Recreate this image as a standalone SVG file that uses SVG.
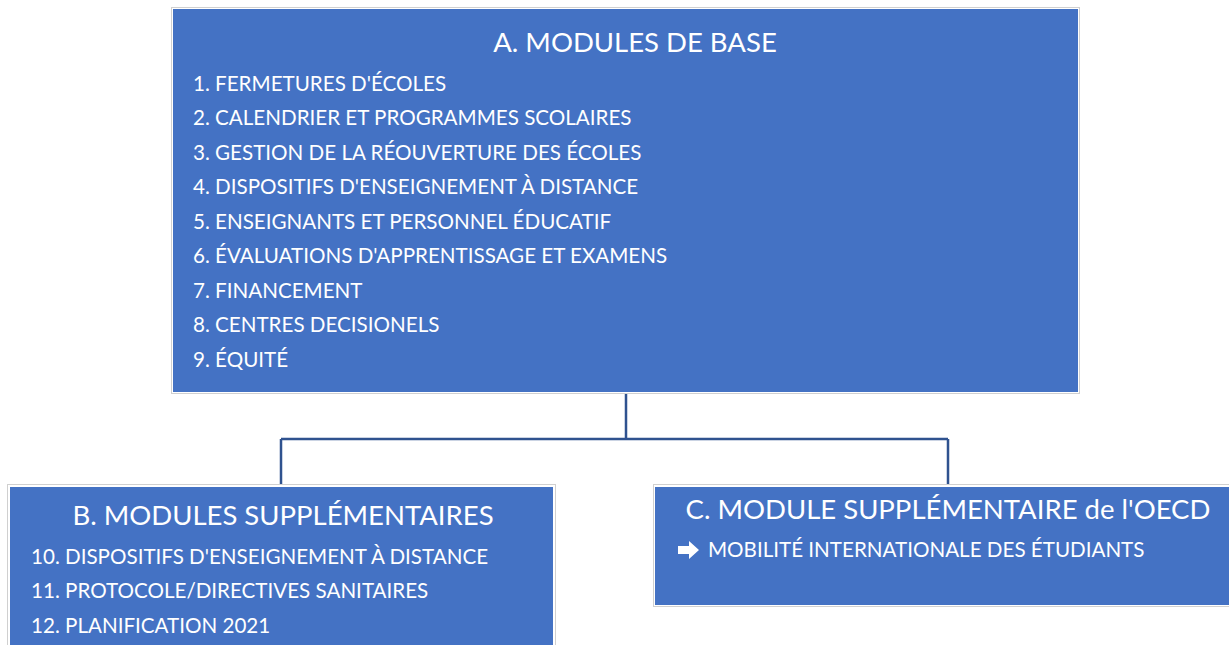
<svg xmlns="http://www.w3.org/2000/svg" width="1229" height="645" viewBox="0 0 1229 645">
<style>
.frame{fill:#ffffff;stroke:#d0d0d0;stroke-width:1}
.box{fill:#4472C4}
.t{font-family:Lato,"Liberation Sans",sans-serif;fill:#ffffff}
.title{font-size:27.5px;text-anchor:middle}
.item{font-size:20.6px}
.conn{fill:none;stroke:#2F528F;stroke-width:2.5}
</style>
<rect width="1229" height="645" fill="#ffffff"/>
<g id="connectors">
<path class="conn" d="M626,394 V439 M281,439 H948 M281,439 V486 M948,439 V486"/>
</g>
<g id="nodeA">
<rect class="frame" x="171.5" y="7.5" width="908" height="386"/>
<rect class="box" x="173" y="9" width="905" height="383"/>
<text class="t title" x="635" y="52">A. MODULES DE BASE</text>
<text class="t item" x="193" y="91">1. FERMETURES D'ÉCOLES</text>
<text class="t item" x="193" y="125">2. CALENDRIER ET PROGRAMMES SCOLAIRES</text>
<text class="t item" x="193" y="160">3. GESTION DE LA RÉOUVERTURE DES ÉCOLES</text>
<text class="t item" x="193" y="194">4. DISPOSITIFS D'ENSEIGNEMENT À DISTANCE</text>
<text class="t item" x="193" y="229">5. ENSEIGNANTS ET PERSONNEL ÉDUCATIF</text>
<text class="t item" x="193" y="263">6. ÉVALUATIONS D'APPRENTISSAGE ET EXAMENS</text>
<text class="t item" x="193" y="298">7. FINANCEMENT</text>
<text class="t item" x="193" y="332">8. CENTRES DECISIONELS</text>
<text class="t item" x="193" y="367">9. ÉQUITÉ</text>
</g>
<g id="nodeB">
<rect class="frame" x="7.5" y="484.5" width="548" height="170"/>
<rect class="box" x="10" y="487" width="543" height="165"/>
<text class="t title" x="283" y="525">B. MODULES SUPPLÉMENTAIRES</text>
<text class="t item" x="31" y="564">10. DISPOSITIFS D'ENSEIGNEMENT À DISTANCE</text>
<text class="t item" x="31" y="598">11. PROTOCOLE/DIRECTIVES SANITAIRES</text>
<text class="t item" x="31" y="633">12. PLANIFICATION 2021</text>
</g>
<g id="nodeC">
<rect class="frame" x="653.5" y="484.5" width="580" height="122"/>
<rect class="box" x="655" y="487" width="580" height="118"/>
<text class="t title" x="948" y="519">C. MODULE SUPPLÉMENTAIRE de l'OECD</text>
<path d="M678,546 H689 V541 L699,550 L689,559 V554 H678 Z" fill="#ffffff"/>
<text class="t item" x="708" y="557">MOBILITÉ INTERNATIONALE DES ÉTUDIANTS</text>
</g>
</svg>
